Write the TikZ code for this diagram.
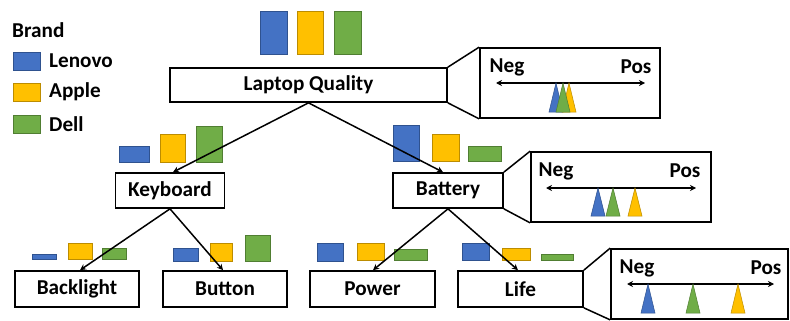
\documentclass[tikz,border=0pt]{standalone}
\usepackage{fontspec}
\setmainfont{Carlito}
\usetikzlibrary{arrows.meta,calc}
\definecolor{cblue}{HTML}{4472C4}
\definecolor{cblueb}{HTML}{2F528F}
\definecolor{cgold}{HTML}{FFC000}
\definecolor{cgoldb}{HTML}{BC8C00}
\definecolor{cgreen}{HTML}{70AD47}
\definecolor{cgreenb}{HTML}{507E32}
\tikzset{
  catbox/.style={draw=black,line width=1.7pt,fill=white,font=\fontsize{21.2}{21.2}\selectfont\bfseries,inner sep=0pt,anchor=center},
  zbox/.style={draw=black,line width=1.7pt,fill=white,inner sep=0pt},
  lbl/.style={font=\fontsize{21.2}{21.2}\selectfont\bfseries,inner sep=0pt},
  link/.style={line width=1.5pt,-{Stealth[length=6pt,width=6pt]}},
  funnel/.style={line width=1.5pt},
  sentline/.style={line width=1.3pt,{Stealth[length=6pt,width=6pt]}-{Stealth[length=6pt,width=6pt]}},
  bbar/.style={fill=cblue,draw=cblueb,line width=0.6pt},
  abar/.style={fill=cgold,draw=cgoldb,line width=0.6pt},
  dbar/.style={fill=cgreen,draw=cgreenb,line width=0.6pt},
}
\newcommand{\tri}[3]{\filldraw[#1] ($(#2)+(-7,#3)$) -- (#2) -- ($(#2)+(7,#3)$) -- cycle;}
\begin{document}
\begin{tikzpicture}[x=1pt,y=-1pt]
\useasboundingbox (0,0) rectangle (790,321);
% legend
\node[lbl,anchor=west] (brand) at (12,30) {Brand};
\filldraw[bbar] (13,52) rectangle (40,70);
\node[lbl,anchor=west] (len) at (49,61) {Lenovo};
\filldraw[abar] (13,83) rectangle (40,101);
\node[lbl,anchor=west] (app) at (49,92) {Apple};
\filldraw[dbar] (13,115) rectangle (40,133);
\node[lbl,anchor=west] (del) at (49,124) {Dell};

% top bars
\filldraw[bbar] (260,11) rectangle (287,54);
\filldraw[abar] (297,11) rectangle (323,54);
\filldraw[dbar] (334,11) rectangle (361,54);

% boxes
\node[catbox,minimum width=277pt,minimum height=34pt] (lq) at (308.5,85) {Laptop Quality};
\node[catbox,minimum width=109pt,minimum height=35pt] (kb) at (170,190.5) {Keyboard};
\node[catbox,minimum width=110pt,minimum height=35pt] (bat) at (448,190.5) {Battery};
\node[catbox,minimum width=124pt,minimum height=36pt] (bl) at (77,289) {Backlight};
\node[catbox,minimum width=124pt,minimum height=36pt] (bu) at (225,289) {Button};
\node[catbox,minimum width=125pt,minimum height=36pt] (pw) at (372.5,289) {Power};
\node[catbox,minimum width=125pt,minimum height=36pt] (lf) at (520.5,289) {Life};

% second level bars
\filldraw[bbar] (119,146) rectangle (149,162);
\filldraw[abar] (160,134) rectangle (185,162);
\filldraw[dbar] (196,126) rectangle (222,162);
\filldraw[bbar] (393,125) rectangle (419,161);
\filldraw[abar] (432,134) rectangle (459,161);
\filldraw[dbar] (468,146) rectangle (501,161);

% third level bars
\filldraw[bbar] (32,254) rectangle (56,259);
\filldraw[abar] (68,243) rectangle (92,259);
\filldraw[dbar] (102,248) rectangle (126,259);
\filldraw[bbar] (173,248) rectangle (198,261);
\filldraw[abar] (210,243) rectangle (232,261);
\filldraw[dbar] (245,235) rectangle (270,261);
\filldraw[bbar] (317,243) rectangle (343,261);
\filldraw[abar] (357,243) rectangle (384,260);
\filldraw[dbar] (394,249) rectangle (427,260);
\filldraw[bbar] (462,243) rectangle (489,260);
\filldraw[abar] (502,248) rectangle (530,260);
\filldraw[dbar] (541,254) rectangle (573,260);

% connectors
\draw[link] (lq.south) -- ($(kb.north)+(3,0)$);
\draw[link] (lq.south) -- ($(bat.north)+(-5,0)$);
\draw[link] (kb.south) -- ($(bl.north)+(3,0)$);
\draw[link] (kb.south) -- ($(bu.north)+(-2,0)$);
\draw[link] (bat.south) -- ($(pw.north)+(0.5,0)$);
\draw[link] (bat.south) -- ($(lf.north)+(-2.5,0)$);

% zoom boxes
\node[zbox,minimum width=180pt,minimum height=70pt] (z1) at (570,83) {};
\node[zbox,minimum width=180pt,minimum height=70pt] (z2) at (621,187) {};
\node[zbox,minimum width=177pt,minimum height=70pt] (z3) at (699.5,284) {};
\draw[funnel] (lq.north east) -- (z1.north west);
\draw[funnel] (lq.south east) -- (z1.south west);
\draw[funnel] (bat.north east) -- (z2.north west);
\draw[funnel] (bat.south east) -- (z2.south west);
\draw[funnel] (lf.north east) -- (z3.north west);
\draw[funnel] (lf.south east) -- (z3.south west);

% zoom 1
\node[lbl] (n1) at (507,67) {Neg};
\node[lbl] (p1) at (636,67) {Pos};
\coordinate (a1l) at (496,83);
\coordinate (a1r) at (645,83);
\draw[sentline] (a1l) -- (a1r);
\coordinate (t1b) at (556,83);
\coordinate (t1a) at (569,83);
\coordinate (t1d) at (563,83);
\tri{fill=cblue,draw=cblueb,line width=0.5pt}{t1b}{29}
\tri{fill=cgold,draw=cgoldb,line width=0.5pt}{t1a}{29}
\tri{fill=cgreen,draw=cgreenb,line width=0.5pt}{t1d}{29}

% zoom 2
\node[lbl] (n2) at (556,171) {Neg};
\node[lbl] (p2) at (685,171) {Pos};
\coordinate (a2l) at (546,188);
\coordinate (a2r) at (696,188);
\draw[sentline] (a2l) -- (a2r);
\coordinate (t2b) at (598,188);
\coordinate (t2d) at (613,188);
\coordinate (t2a) at (635,188);
\tri{fill=cblue,draw=cblueb,line width=0.5pt}{t2b}{28}
\tri{fill=cgreen,draw=cgreenb,line width=0.5pt}{t2d}{28}
\tri{fill=cgold,draw=cgoldb,line width=0.5pt}{t2a}{28}

% zoom 3
\node[lbl] (n3) at (637,268) {Neg};
\node[lbl] (p3) at (766,268) {Pos};
\coordinate (a3l) at (627,284);
\coordinate (a3r) at (774,284);
\draw[sentline] (a3l) -- (a3r);
\coordinate (t3b) at (648,284);
\coordinate (t3d) at (693,284);
\coordinate (t3a) at (738,284);
\tri{fill=cblue,draw=cblueb,line width=0.5pt}{t3b}{29}
\tri{fill=cgreen,draw=cgreenb,line width=0.5pt}{t3d}{29}
\tri{fill=cgold,draw=cgoldb,line width=0.5pt}{t3a}{29}
\end{tikzpicture}
\end{document}
